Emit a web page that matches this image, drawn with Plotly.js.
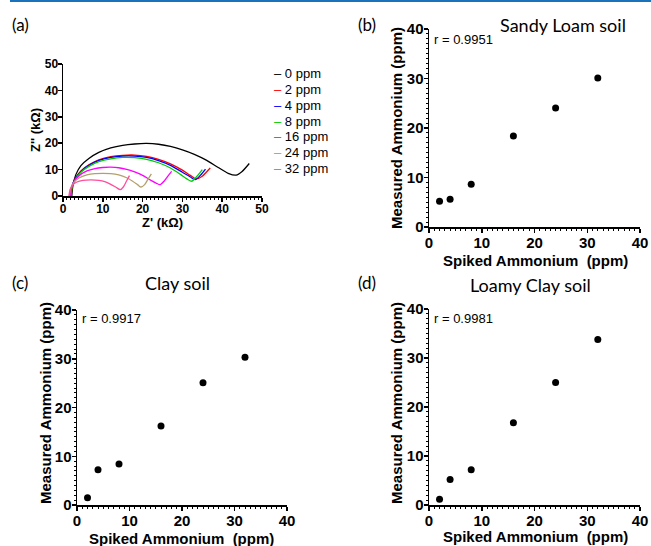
<!DOCTYPE html>
<html>
<head>
<meta charset="utf-8">
<script src="https://cdn.plot.ly/plotly-3.0.1.min.js"></script>
<style>html,body{margin:0;padding:0;background:#fff;}#chart{width:651px;height:546px;}</style>
</head>
<body>
<div id="chart"></div>
<script>
// ---- Panel (a): Nyquist plots ----
const nyqLabels = ["0 ppm", "2 ppm", "4 ppm", "8 ppm", "16 ppm", "24 ppm", "32 ppm"];
const nyqColors = ["#000000", "#ff0000", "#0000ff", "#00cc00", "#ff00ff", "#b5a06c", "#ff4f9a"];
const z0x = [2.2, 2.5, 3.2, 4.5, 6.5, 9, 12, 15, 18, 21, 24, 27, 30, 33, 36, 39, 41.5, 43.5, 45, 46.8];
const z0y = [0, 4, 8, 11.5, 14.2, 16.5, 18.2, 19.2, 19.7, 19.9, 19.6, 18.8, 17.5, 15.8, 13.6, 10.8, 8.6, 7.9, 9.3, 12.3];
const z2x = [2.0, 2.3, 3, 4.5, 6.5, 9, 12, 15, 18, 21, 24, 27, 30, 32, 33.5, 35, 36, 37];
const z2y = [0, 3.5, 6.5, 9.5, 11.8, 13.7, 14.9, 15.4, 15.5, 15.0, 13.9, 12.2, 9.8, 7.8, 6.5, 7.5, 9, 10.6];
const z4x = [1.9, 2.2, 3, 4.5, 6.5, 9, 12, 15, 18, 21, 24, 27, 30, 32, 33.2, 34.5, 35.8];
const z4y = [0, 3.5, 6.3, 9.3, 11.6, 13.5, 14.6, 15.1, 15.1, 14.6, 13.4, 11.6, 9.0, 7.2, 6.2, 7.8, 10.2];
const z8x = [2.0, 2.3, 3, 4.5, 6.5, 9, 12, 15, 18, 21, 24, 27, 29.5, 31, 32.3, 33.5, 35];
const z8y = [0, 3.3, 6.0, 9.0, 11.2, 13.0, 14.1, 14.6, 14.5, 13.9, 12.6, 10.6, 8.2, 6.6, 5.6, 7.2, 10];
const z16x = [1.8, 2.1, 2.8, 4, 6, 8, 10, 12, 14, 16, 18, 20, 22, 23.5, 24.4, 25.5, 26.5, 27.3];
const z16y = [0, 3, 5.3, 7.6, 9.5, 10.4, 10.8, 10.9, 10.7, 10.1, 9.1, 7.8, 6.0, 4.8, 4.3, 5.8, 7.8, 9.3];
const z24x = [1.6, 1.9, 2.6, 4, 6, 8, 10, 12, 14, 16, 17.5, 18.8, 19.6, 20.5, 21.3, 22.2];
const z24y = [0, 2.8, 4.9, 6.8, 8.0, 8.5, 8.6, 8.5, 8.0, 6.9, 5.6, 4.2, 3.4, 4.3, 6.2, 8.4];
const z32x = [1.5, 1.8, 2.5, 3.5, 5, 7, 9, 10.5, 12, 13.3, 14.4, 15.2, 15.9, 16.7];
const z32y = [0, 2.5, 4.3, 5.3, 5.9, 6.1, 5.9, 5.4, 4.4, 3.3, 2.4, 3.5, 5.5, 7.7];

// ---- Panels (b)-(d): recovery ----
const spiked = [2, 4, 8, 16, 24, 32];
const sandyLoam = [5.2, 5.6, 8.65, 18.4, 24.05, 30.1];
const clay = [1.5, 7.25, 8.4, 16.2, 25.1, 30.3];
const loamyClay = [1.15, 5.2, 7.2, 16.8, 25.0, 33.8];
const panelTitles = ["Sandy Loam soil", "Clay soil", "Loamy Clay soil"];
const rValues = ["r = 0.9951", "r = 0.9917", "r = 0.9981"];
const panelLetters = ["(a)", "(b)", "(c)", "(d)"];
const xTitleA = "Z' (kΩ)", yTitleA = "Z'' (kΩ)";
const xTitleR = "Spiked Ammonium  (ppm)", yTitleR = "Measured Ammonium (ppm)";

const W = 651, H = 546;
const px = v => v / W;
const py = v => 1 - v / H;

const nyqX = [z0x, z2x, z4x, z8x, z16x, z24x, z32x];
const nyqY = [z0y, z2y, z4y, z8y, z16y, z24y, z32y];
const traces = [];
for (let i = 0; i < nyqLabels.length; i++) {
  traces.push({x: nyqX[i], y: nyqY[i], type: 'scatter', mode: 'lines', name: nyqLabels[i],
    line: {color: nyqColors[i], width: 1.3, shape: 'spline', smoothing: 0.8},
    xaxis: 'x', yaxis: 'y', showlegend: false});
}
const recSets = [sandyLoam, clay, loamyClay];
const axIds = [['x2', 'y2'], ['x3', 'y3'], ['x4', 'y4']];
for (let i = 0; i < 3; i++) {
  traces.push({x: spiked, y: recSets[i], type: 'scatter', mode: 'markers',
    marker: {color: '#000', size: 7}, xaxis: axIds[i][0], yaxis: axIds[i][1], showlegend: false});
}

const tickFontA = {family: 'Liberation Sans, Arial', size: 12, color: '#000', weight: 'bold'};
const tickFontB = {family: 'Liberation Sans, Arial', size: 15, color: '#000', weight: 'bold'};
function ax(domain, range, dtick, tf, minorX) {
  return {
    domain: domain, range: range, dtick: dtick, tick0: 0,
    showgrid: false, zeroline: false, showline: true, linecolor: '#000', linewidth: 1.5,
    ticks: 'outside', ticklen: 4, tickwidth: 1.5, tickcolor: '#000',
    tickfont: tf, fixedrange: true, ticklabelstandoff: -3,
    minor: minorX ? {dtick: 1, ticks: 'outside', ticklen: 2, tickwidth: 1, tickcolor: '#000', showgrid: false} : undefined
  };
}

const layout = {
  width: W, height: H, margin: {l: 0, r: 0, t: 0, b: 0},
  paper_bgcolor: '#fff', plot_bgcolor: '#fff', showlegend: false,
  xaxis: Object.assign(ax([px(63), px(262)], [0, 50], 10, tickFontA, true), {anchor: 'y'}),
  yaxis: Object.assign(ax([py(196), py(64)], [0, 50], 10, tickFontA, false), {anchor: 'x'}),
  xaxis2: Object.assign(ax([px(429), px(640)], [0, 40], 10, tickFontB, true), {anchor: 'y2'}),
  yaxis2: Object.assign(ax([py(227), py(29)], [0, 40], 10, tickFontB, true), {anchor: 'x2'}),
  xaxis3: Object.assign(ax([px(77), px(287)], [0, 40], 10, tickFontB, true), {anchor: 'y3'}),
  yaxis3: Object.assign(ax([py(505), py(310)], [0, 40], 10, tickFontB, true), {anchor: 'x3'}),
  xaxis4: Object.assign(ax([px(429), px(640)], [0, 40], 10, tickFontB, true), {anchor: 'y4'}),
  yaxis4: Object.assign(ax([py(505), py(309)], [0, 40], 10, tickFontB, true), {anchor: 'x4'}),
  shapes: [
    {type: 'line', xref: 'paper', yref: 'paper', x0: px(10), x1: 1, y0: py(1), y1: py(1), line: {color: '#1a72bb', width: 2}}
  ],
  annotations: []
};

function addText(x, y, text, font, opts) {
  layout.annotations.push(Object.assign({xref: 'paper', yref: 'paper', x: px(x), y: py(y), text: text,
    showarrow: false, xanchor: 'center', yanchor: 'middle', font: font}, opts || {}));
}
const boldA = {family: 'Liberation Sans, Arial', size: 13, color: '#000', weight: 'bold'};
const boldB = {family: 'Liberation Sans, Arial', size: 15, color: '#000', weight: 'bold'};
// axis titles
addText(162, 222, xTitleA, boldA);
addText(35, 130, yTitleA, boldA, {textangle: -90});
const xtPos = [[535, 260], [182, 538], [535, 536]];
const ytPos = [[396, 128], [45, 403], [396, 403]];
for (let i = 0; i < 3; i++) {
  addText(xtPos[i][0], xtPos[i][1], xTitleR, boldB);
  addText(ytPos[i][0], ytPos[i][1], yTitleR, boldB, {textangle: -90});
}

const calibri = 'Lato, Carlito, Calibri, sans-serif';
const letterPos = [[20, 25], [367, 25], [20, 282], [367, 282]];
for (let i = 0; i < 4; i++) {
  addText(letterPos[i][0], letterPos[i][1], panelLetters[i], {family: calibri, size: 17, color: '#000'});
}
const titlePos = [[563, 25], [177, 283], [530, 285]];
for (let i = 0; i < 3; i++) {
  addText(titlePos[i][0], titlePos[i][1], panelTitles[i], {family: calibri, size: 18, color: '#000'});
}
const rPos = [[432, 40], [80, 318], [432, 318]];
for (let i = 0; i < 3; i++) {
  addText(rPos[i][0], rPos[i][1], rValues[i], {family: 'Liberation Sans, Arial', size: 13, color: '#000'}, {xanchor: 'left'});
}
for (let i = 0; i < nyqLabels.length; i++) {
  addText(272, 74 + i * 15.7, "<span style='color:" + nyqColors[i] + "'>–</span> " + nyqLabels[i],
    {family: 'Liberation Sans, Arial', size: 13, color: '#000'}, {xanchor: 'left'});
}

Plotly.newPlot('chart', traces, layout, {displayModeBar: false, staticPlot: true});
</script>
</body>
</html>
